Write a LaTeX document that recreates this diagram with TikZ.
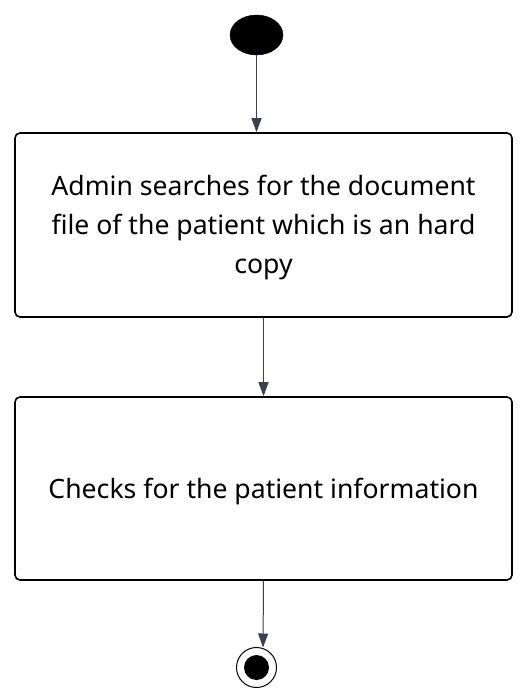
\documentclass[tikz,border=0pt]{standalone}
\usepackage{fontspec}
\setmainfont{Noto Sans}
\usetikzlibrary{arrows.meta,shapes.geometric}
\definecolor{conn}{HTML}{3B404C}
\tikzset{
  actbox/.style={draw=black, line width=1.6pt, rounded corners=5pt, minimum width=497pt, inner sep=0pt},
  acttext/.style={font=\fontsize{26.6}{39}\selectfont, align=center, inner sep=0pt},
  conline/.style={draw=conn, line width=1pt, -{Triangle[width=10pt,length=14pt]}},
}
\begin{document}
\begin{tikzpicture}[x=1pt,y=-1pt]
\useasboundingbox (0,0) rectangle (522,700);
\node[draw=black, fill=black, ellipse, minimum width=53pt, minimum height=40pt, inner sep=0pt] (start) at (256.5,35) {};
\node[actbox, minimum height=184pt] (a1) at (263.5,225) {};
\node[actbox, minimum height=183pt] (a2) at (263.5,488.5) {};
\node[acttext] (t1) at (263.5,228) {Admin searches for the document\\file of the patient which is an hard\\copy};
\node[acttext] (t2) at (263.5,491.5) {Checks for the patient information};
\node[circle, draw=black, line width=1pt, minimum size=40pt, inner sep=0pt] (end) at (256.5,667.5) {};
\node[circle, fill=black, minimum size=25pt, inner sep=0pt] (endin) at (end.center) {};
\coordinate (e1) at (263,647.5);
\draw[conline] (start.south) -- (start.south |- a1.north);
\draw[conline] (a1.south) -- (a2.north);
\draw[conline] (a2.south) -- (e1);
\end{tikzpicture}
\end{document}
